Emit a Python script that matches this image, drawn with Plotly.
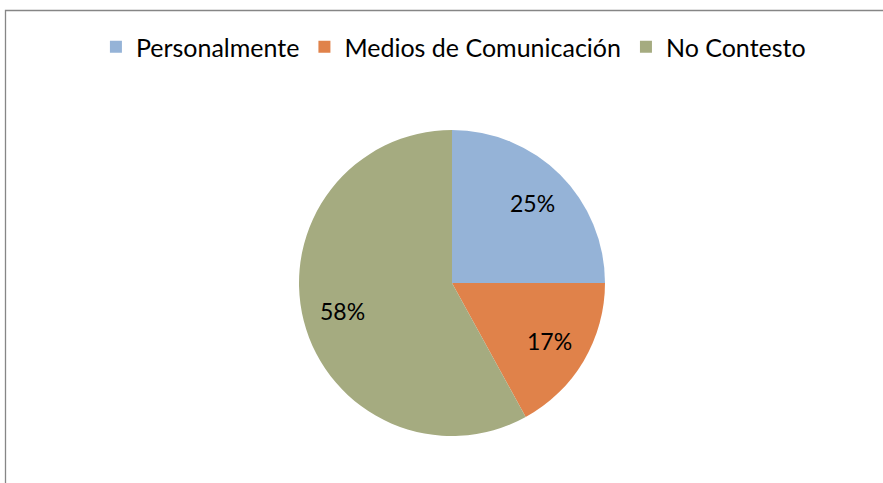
import math
import plotly.graph_objects as go

categories = ["Personalmente", "Medios de Comunicación", "No Contesto"]
values = [25, 17, 58]
colors = ["#95B3D7", "#E0824A", "#A5AB80"]

W, H = 883, 483
cx, cy, R = 452, 283, 153

fig = go.Figure(go.Pie(
    labels=categories,
    values=values,
    marker=dict(colors=colors, line=dict(width=0)),
    sort=False,
    direction="clockwise",
    rotation=0,
    textinfo="none",
    domain=dict(x=[(cx - R) / W, (cx + R) / W], y=[1 - (cy + R) / H, 1 - (cy - R) / H]),
    hoverinfo="label+percent",
))

# percentage labels placed at each slice's mid-angle
total = sum(values)
annotations = []
acc = 0
for v in values:
    mid = (acc + v / 2) / total * 2 * math.pi
    acc += v
    rr = 0.74 * R
    px = cx + rr * math.sin(mid)
    py = cy - rr * math.cos(mid)
    annotations.append(dict(
        x=px / W, y=1 - py / H, xref="paper", yref="paper",
        text=f"{round(v / total * 100)}%", showarrow=False,
        font=dict(family="Lato", size=23, color="#000000"),
        xanchor="center", yanchor="middle",
    ))

fig.update_layout(
    width=W, height=H,
    margin=dict(l=0, r=0, t=0, b=0),
    paper_bgcolor="white",
    showlegend=True,
    legend=dict(
        orientation="h", x=0.5135, xanchor="center", y=1 - 47 / H, yanchor="middle",
        font=dict(family="Lato", size=25, color="#000000"),
        traceorder="normal",
    ),
    annotations=annotations,
    shapes=[dict(type="rect", xref="paper", yref="paper",
                 x0=5.5 / W, x1=1.05, y0=-0.05, y1=1 - 10.5 / H,
                 line=dict(color="#868686", width=1.3), fillcolor="rgba(0,0,0,0)")],
)

fig.write_html("out.html", config={"displayModeBar": False},
               post_script="document.body.style.margin='0';document.body.style.padding='0';")
